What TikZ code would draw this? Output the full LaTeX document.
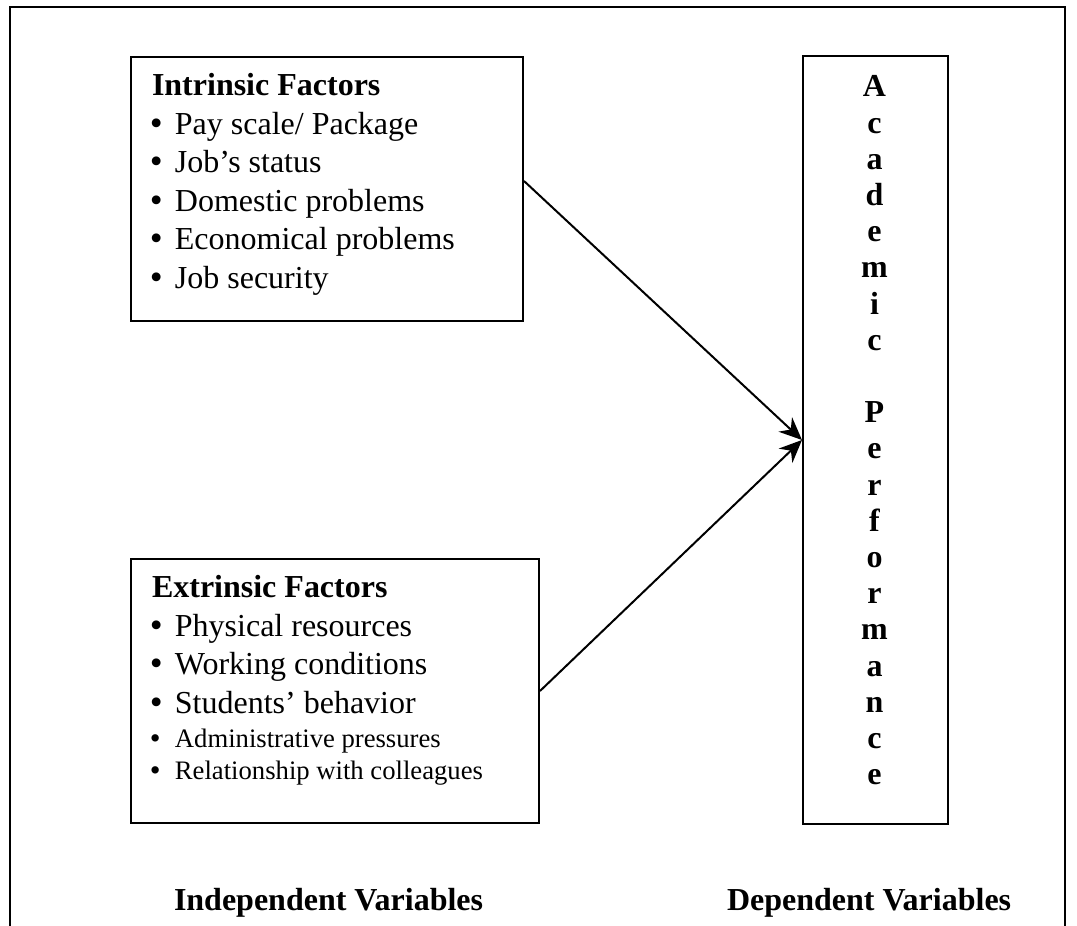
\documentclass[tikz,border=0pt]{standalone}
\usepackage{fontspec}
\setmainfont{Liberation Serif}
\usetikzlibrary{arrows.meta}
\newcommand{\itembullet}{\makebox[8.6pt][l]{\hspace{-0.8pt}\raisebox{-0.3pt}{\scalebox{1.15}{\textbullet}}}}

\begin{document}
\begin{tikzpicture}[x=0.375pt,y=-0.375pt,>={Stealth[length=3mm,width=2.6mm]},line width=0.75pt,
  box/.style={draw,anchor=north west,inner sep=0pt},
  head/.style={anchor=base west,inner sep=0pt,font=\fontsize{12}{14}\selectfont\bfseries},
  item/.style={anchor=base west,inner sep=0pt,font=\fontsize{12}{14}\selectfont},
  smallitem/.style={anchor=base west,inner sep=0pt,font=\fontsize{10}{12}\selectfont},
  letter/.style={anchor=base,inner sep=0pt,font=\fontsize{12}{14}\selectfont\bfseries}]
\useasboundingbox (0,0) rectangle (1077,926);
\draw (10,926) -- (10,7) -- (1065,7) -- (1065,926);
% boxes
\node[box,minimum width=147pt,minimum height=99pt] (intr) at (130,56) {};
\node[box,minimum width=153pt,minimum height=99pt] (extr) at (130,558) {};
\node[box,minimum width=54.4pt,minimum height=288pt] (perf) at (802,55) {};
% intrinsic factors
\node[head] (intrhead) at (151,96) {Intrinsic Factors};
\foreach \txt [count=\i] in {Pay scale/ Package,Job’s status,Domestic problems,Economical problems,Job security}
  \node[item] (intr\i) at (151,{96+\i*38.5}) {\itembullet\txt};
% extrinsic factors
\node[head] (extrhead) at (151,598) {Extrinsic Factors};
\foreach \txt [count=\i] in {Physical resources,Working conditions,Students’ behavior}
  \node[item] (extr\i) at (151,{598+\i*38.5}) {\itembullet\txt};
\node[smallitem] (extr4) at (151,748) {\itembullet Administrative pressures};
\node[smallitem] (extr5) at (151,780) {\itembullet Relationship with colleagues};
% dependent variable, one letter per line
\foreach \ch [count=\i from 0] in {A,c,a,d,e,m,i,c,{},P,e,r,f,o,r,m,a,n,c,e}
  \node[letter] (perf\i) at (874.5,{97+\i*36.2}) {\ch};
% arrows
\draw[->] ([yshift=3pt]intr.east) -- (perf.west);
\draw[->] (extr.east) -- (perf.west);
% captions
\node[head] (indep) at (173,911) {Independent Variables};
\node[head] (dep) at (726,911) {Dependent Variables};
\end{tikzpicture}
\end{document}
